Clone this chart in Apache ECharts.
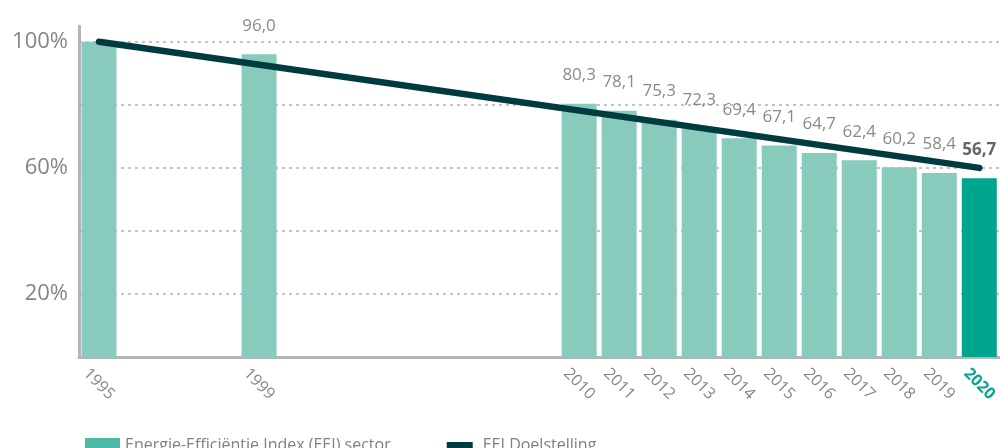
<!DOCTYPE html>
<html>
<head>
<meta charset="utf-8">
<script src="https://cdn.jsdelivr.net/npm/echarts@6/dist/echarts.min.js"></script>
<style>
html,body{margin:0;padding:0;background:#fff;}
#chart{width:1000px;height:448px;}
</style>
</head>
<body>
<div id="chart"></div>
<script>
// Axis slots (tick labels); blanks are empty gaps on the category axis
const axisSlots = ['1995','','','','1999','','','','','','','','2010','2011','2012','2013','2014','2015','2016','2017','2018','2019','2020'];
// EEI sector values per year
const eeiYears = ['1995','1999','2010','2011','2012','2013','2014','2015','2016','2017','2018','2019','2020'];
const eeiValues = [100, 96.0, 80.3, 78.1, 75.3, 72.3, 69.4, 67.1, 64.7, 62.4, 60.2, 58.4, 56.7];
// EEI target line
const doelYears = ['1995','2020'];
const doelValues = [100, 60];
const highlightYear = '2020';
const unlabelledYears = ['1995'];
// Y axis
const gridValues = [20, 40, 60, 80, 100];
const yLabelValues = [20, 60, 100];

const seriesNames = ['Energie-Efficiëntie Index (EEI) sector', 'EEI Doelstelling'];
const FONT = '"Open Sans", sans-serif';

const barData = axisSlots.map(() => null);
eeiYears.forEach((y, i) => {
  const idx = axisSlots.indexOf(y);
  const item = { value: eeiValues[i] };
  if (y === highlightYear) {
    item.itemStyle = { color: '#00a58d' };
    item.label = { fontWeight: 'bold', color: '#666666' };
  }
  if (unlabelledYears.indexOf(y) >= 0) item.label = { show: false };
  barData[idx] = item;
});
const lineData = axisSlots.map(() => null);
doelYears.forEach((y, i) => { lineData[axisSlots.indexOf(y)] = doelValues[i]; });

const chart = echarts.init(document.getElementById('chart'));
chart.setOption({
  animation: false,
  textStyle: { fontFamily: FONT },
  grid: { left: 79, right: 0, top: 26, bottom: 91, containLabel: false },
  legend: {
    left: 80, top: 432,
    itemWidth: 35, itemHeight: 14, itemGap: 52,
    textStyle: { fontSize: 16, color: '#808080', fontFamily: FONT },
    data: [
      { name: seriesNames[0], icon: 'rect', itemStyle: { color: '#4cb8a6' } },
      { name: seriesNames[1], icon: 'path://M0,0L0,0M4,4H30V10H4ZM35,14L35,14', itemStyle: { color: '#003b3f' } }
    ]
  },
  xAxis: {
    type: 'category',
    data: axisSlots,
    axisLine: { lineStyle: { color: '#b5b5b5', width: 3 } },
    axisTick: { show: false },
    axisLabel: {
      interval: 0, rotate: -45, margin: 27,
      align: 'center', verticalAlign: 'middle',
      fontSize: 16, color: '#858585', fontFamily: FONT,
      formatter: v => v === highlightYear ? '{hl|' + v + '}' : v,
      rich: { hl: { color: '#00a58d', fontWeight: 'bold', fontSize: 16, fontFamily: FONT } }
    }
  },
  yAxis: {
    type: 'value', min: 0, max: 105, interval: 20,
    axisLine: { show: true, lineStyle: { color: '#b5b5b5', width: 3 } },
    axisTick: { show: false },
    splitLine: { show: false },
    axisLabel: {
      margin: 11, fontSize: 22, color: '#858585', fontFamily: FONT,
      showMaxLabel: false,
      formatter: v => yLabelValues.indexOf(v) >= 0 ? v + '%' : ''
    }
  },
  series: [
    {
      name: seriesNames[0],
      type: 'bar',
      data: barData,
      barWidth: 35,
      itemStyle: { color: '#88cbbd' },
      z: 2,
      label: {
        show: true, position: 'top', distance: 20,
        fontSize: 17, color: '#8a8a8a', fontFamily: FONT,
        formatter: p => p.value.toFixed(1).replace('.', ',')
      },
      markLine: {
        z: 1, silent: true, symbol: ['none', 'none'],
        label: { show: false },
        lineStyle: { color: '#b0b0b0', type: [3, 4], width: 1.5 },
        data: gridValues.map(v => ({ yAxis: v }))
      }
    },
    {
      name: seriesNames[1],
      type: 'line',
      data: lineData,
      connectNulls: true,
      symbol: 'none',
      z: 5,
      lineStyle: { color: '#003b3f', width: 6.5, cap: 'round' },
      itemStyle: { color: '#003b3f' }
    }
  ]
});
</script>
</body>
</html>
